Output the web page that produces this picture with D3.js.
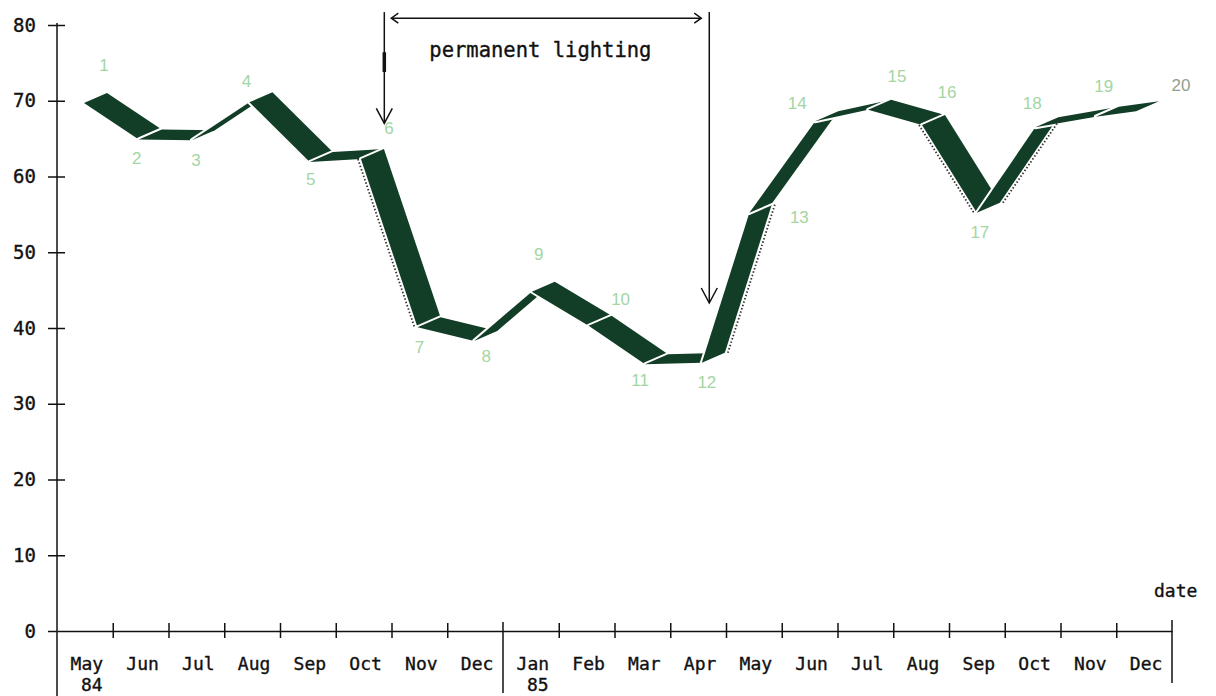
<!DOCTYPE html>
<html>
<head>
<meta charset="utf-8">
<script src="https://cdn.jsdelivr.net/npm/d3@7"></script>
<style>
  body { margin: 0; background: #fff; }
  svg text.mono { font-family: "DejaVu Sans Mono", monospace; fill: #111; stroke: #111; stroke-width: 0.35px; }
</style>
</head>
<body>
<script>
// month axis, May 84 .. Dec 85
const months = ["May", "Jun", "Jul", "Aug", "Sep", "Oct", "Nov", "Dec",
                "Jan", "Feb", "Mar", "Apr", "May", "Jun", "Jul", "Aug", "Sep", "Oct", "Nov", "Dec"];
const yearLabels = ["84", "85"];
const yearStart = [0, 8];
const yTicks = [0, 10, 20, 30, 40, 50, 60, 70, 80];

// the 20 readings
const dates = ["1984-05-16", "1984-06-15", "1984-07-14", "1984-08-15", "1984-09-17",
               "1984-10-15", "1984-11-15", "1984-12-16", "1985-01-17", "1985-02-16",
               "1985-03-18", "1985-04-18", "1985-05-14", "1985-06-19", "1985-07-18",
               "1985-08-17", "1985-09-16", "1985-10-18", "1985-11-20", "1985-12-12"];
const values = [69.7, 64.9, 64.8, 69.8, 61.9, 62.3, 40.1, 38.3, 44.8, 40.3,
                35.2, 35.4, 55.2, 67.3, 68.8, 66.8, 55.2, 66.5, 67.9, 68.6];

// hand-written point numbers, nudged away from each point (px)
const noteDx = [20, -2, 4, -3, 1, 28, 2, 12, 7, 32, -5, 5, 50, -18, 29, 25, 3, -3, 8, 45];
const noteDy = [-38, 19, 20, -21, 17, -31, 20, 16, -37, -26, 16, 20, 5, -18, -33, -32, 20, -24, -30, -26];

// "permanent lighting" period
const lightStart = "1984-10-28";
const lightEnd = "1985-04-22";

const width = 1216, height = 696;
const depth = { dx: 23, dy: -10 };   // 3d offset of the ribbon
const ink = "#123d26";

const svg = d3.select("body").append("svg")
    .attr("width", width)
    .attr("height", height);

const x = d3.scaleLinear().domain([0, months.length]).range([57, 1172]);
const y = d3.scaleLinear().domain([0, 80]).range([631, 25]);

const parse = d3.timeParse("%Y-%m-%d");
const origin = new Date(1984, 4, 1);
function monthPos(s) {
    const d = parse(s);
    const m0 = d3.timeMonth.floor(d);
    const m1 = d3.timeMonth.offset(m0, 1);
    return d3.timeMonth.count(origin, m0) + (d - m0) / (m1 - m0);
}

const pts = dates.map((d, i) => ({ x: x(monthPos(d)), y: y(values[i]) }));

// ribbon: one extruded parallelogram per segment
svg.append("g")
    .selectAll("polygon")
    .data(d3.pairs(pts))
    .join("polygon")
    .attr("points", ([a, b]) => [
        [a.x, a.y], [b.x, b.y],
        [b.x + depth.dx, b.y + depth.dy], [a.x + depth.dx, a.y + depth.dy]
    ].join(" "))
    .attr("fill", ink)
    .attr("stroke", "#fff")
    .attr("stroke-width", 4)
    .attr("stroke-linejoin", "round")
    .style("paint-order", "stroke");

// dotted shading on the steep sides
const steep = d3.pairs(pts).filter(([a, b]) => Math.abs(b.y - a.y) / (b.x - a.x) > 1.4);
svg.append("g")
    .selectAll("line")
    .data(steep)
    .join("line")
    .attr("x1", ([a, b]) => b.y > a.y ? a.x - 3 : a.x + depth.dx + 3)
    .attr("y1", ([a, b]) => b.y > a.y ? a.y : a.y + depth.dy)
    .attr("x2", ([a, b]) => b.y > a.y ? b.x - 3 : b.x + depth.dx + 3)
    .attr("y2", ([a, b]) => b.y > a.y ? b.y : b.y + depth.dy)
    .attr("stroke", "#333")
    .attr("stroke-width", 1.8)
    .attr("stroke-dasharray", "1.5,2");

// y axis
svg.append("line")
    .attr("x1", x(0)).attr("y1", y(80) - 2)
    .attr("x2", x(0)).attr("y2", height)
    .attr("stroke", "#111")
    .attr("stroke-width", 1.5);

const gy = svg.append("g")
    .attr("transform", `translate(${x(0)},0)`)
    .call(d3.axisLeft(y).tickValues(yTicks).tickSize(9).tickPadding(12));
gy.select(".domain").remove();
gy.selectAll(".tick line")
    .attr("x1", d => d === 0 ? 0 : 8)
    .attr("stroke", "#111")
    .attr("stroke-width", 1.5);
gy.selectAll(".tick text")
    .attr("class", "mono")
    .style("font-size", "19px");

// x axis
const gx = svg.append("g")
    .attr("transform", `translate(0,${y(0)})`)
    .call(d3.axisBottom(x)
        .tickValues(d3.range(1, months.length).filter(v => v !== 8))
        .tickSize(7)
        .tickSizeOuter(0)
        .tickFormat(""));
gx.select(".domain").attr("stroke", "#111").attr("stroke-width", 1.5);
gx.selectAll(".tick line")
    .attr("y1", -8)
    .attr("stroke", "#111")
    .attr("stroke-width", 1.5);

// year divider and end line
svg.append("line")
    .attr("x1", x(8)).attr("x2", x(8))
    .attr("y1", y(0) - 9).attr("y2", y(0) + 62)
    .attr("stroke", "#111").attr("stroke-width", 1.5);
svg.append("line")
    .attr("x1", x(20)).attr("x2", x(20))
    .attr("y1", y(0) - 11).attr("y2", y(0) + 52)
    .attr("stroke", "#111").attr("stroke-width", 1.5);

svg.append("g")
    .selectAll("text")
    .data(months)
    .join("text")
    .attr("class", "mono")
    .attr("x", (d, i) => x(i + 0.5) + 2)
    .attr("y", 670)
    .attr("text-anchor", "middle")
    .style("font-size", "18px")
    .text(d => d);

svg.append("g")
    .selectAll("text")
    .data(yearLabels)
    .join("text")
    .attr("class", "mono")
    .attr("x", (d, i) => x(yearStart[i] + 0.5) + 7)
    .attr("y", 691)
    .attr("text-anchor", "middle")
    .style("font-size", "18px")
    .text(d => d);

svg.append("text")
    .attr("class", "mono")
    .attr("x", 1154)
    .attr("y", 597)
    .style("font-size", "18px")
    .text("date");

// hand-written point numbers
svg.append("g")
    .selectAll("text")
    .data(pts)
    .join("text")
    .attr("x", (d, i) => d.x + noteDx[i])
    .attr("y", (d, i) => d.y + noteDy[i])
    .attr("text-anchor", "middle")
    .attr("dominant-baseline", "central")
    .style("font-family", "Liberation Sans")
    .style("font-size", "17px")
    .style("fill", (d, i) => i === 19 ? "#8f9f8f" : "#a3d6a3")
    .text((d, i) => i + 1);

// permanent lighting annotation
const lx = x(monthPos(lightStart));
const rx = x(monthPos(lightEnd));
const note = svg.append("g")
    .attr("stroke", "#111")
    .attr("stroke-width", 1.5)
    .attr("fill", "none");

note.append("line")
    .attr("x1", lx).attr("x2", lx)
    .attr("y1", y(81.7)).attr("y2", y(67));
note.append("line")
    .attr("x1", lx).attr("x2", lx)
    .attr("y1", y(76.4)).attr("y2", y(73.8))
    .attr("stroke-width", 3.5);
note.append("polyline")
    .attr("points", [[lx - 8, y(67) - 15], [lx, y(67)], [lx + 8, y(67) - 15]].join(" "));

note.append("line")
    .attr("x1", rx).attr("x2", rx)
    .attr("y1", y(81.7)).attr("y2", y(43.3));
note.append("polyline")
    .attr("points", [[rx - 8, y(43.3) - 15], [rx, y(43.3)], [rx + 8, y(43.3) - 15]].join(" "));

const hy = y(80.9);
note.append("line")
    .attr("x1", lx + 7).attr("x2", rx - 8)
    .attr("y1", hy).attr("y2", hy);
note.append("polyline")
    .attr("points", [[lx + 14, hy - 5], [lx + 7, hy], [lx + 14, hy + 5]].join(" "));
note.append("polyline")
    .attr("points", [[rx - 15, hy - 5], [rx - 8, hy], [rx - 15, hy + 5]].join(" "));

svg.append("text")
    .attr("class", "mono")
    .attr("x", lx + 45)
    .attr("y", 57)
    .style("font-size", "20.5px")
    .text("permanent lighting");
</script>
</body>
</html>
